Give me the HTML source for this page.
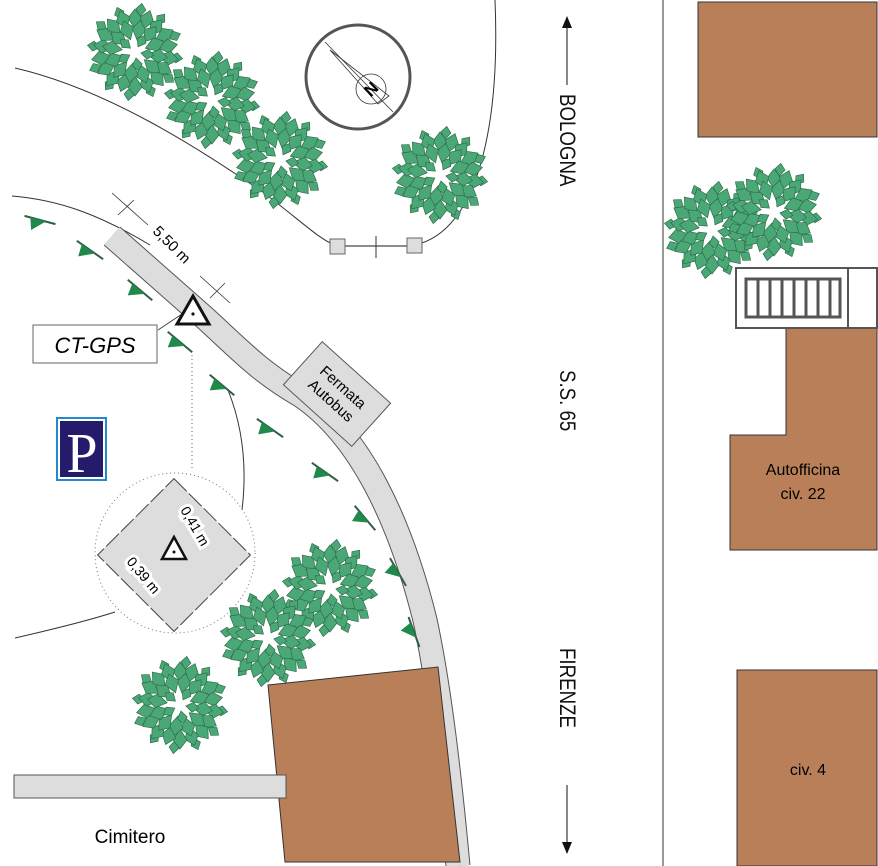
<!DOCTYPE html>
<html><head><meta charset="utf-8"><style>html,body{margin:0;padding:0;background:#fff}svg{display:block}</style></head>
<body>
<svg width="878" height="866" viewBox="0 0 878 866" xmlns="http://www.w3.org/2000/svg" font-family="Liberation Sans, sans-serif">
<defs>
<path id="lf" d="M0,-11 L7,-2 L0,9 L-7,-2Z" fill="#4aa877" stroke="#2f6e4c" stroke-width="0.7"/>
<path id="ls" d="M0,-7 L5,-1 L0,6 L-5,-1Z" fill="#4aa877" stroke="#2f6e4c" stroke-width="0.7"/>
<g id="tree">
<use href="#ls" transform="rotate(8) translate(0,-42)"/><use href="#ls" transform="rotate(38) translate(0,-41)"/>
<use href="#ls" transform="rotate(68) translate(0,-42)"/><use href="#ls" transform="rotate(98) translate(0,-41)"/>
<use href="#ls" transform="rotate(128) translate(0,-42)"/><use href="#ls" transform="rotate(158) translate(0,-41)"/>
<use href="#ls" transform="rotate(188) translate(0,-42)"/><use href="#ls" transform="rotate(218) translate(0,-41)"/>
<use href="#ls" transform="rotate(248) translate(0,-42)"/><use href="#ls" transform="rotate(278) translate(0,-41)"/>
<use href="#ls" transform="rotate(308) translate(0,-42)"/><use href="#ls" transform="rotate(338) translate(0,-41)"/>
<use href="#lf" transform="rotate(0) translate(0,-32)"/><use href="#lf" transform="rotate(20) translate(0,-33)"/>
<use href="#lf" transform="rotate(40) translate(0,-31)"/><use href="#lf" transform="rotate(60) translate(0,-33)"/>
<use href="#lf" transform="rotate(80) translate(0,-32)"/><use href="#lf" transform="rotate(100) translate(0,-33)"/>
<use href="#lf" transform="rotate(120) translate(0,-31)"/><use href="#lf" transform="rotate(140) translate(0,-33)"/>
<use href="#lf" transform="rotate(160) translate(0,-32)"/><use href="#lf" transform="rotate(180) translate(0,-33)"/>
<use href="#lf" transform="rotate(200) translate(0,-31)"/><use href="#lf" transform="rotate(220) translate(0,-33)"/>
<use href="#lf" transform="rotate(240) translate(0,-32)"/><use href="#lf" transform="rotate(260) translate(0,-33)"/>
<use href="#lf" transform="rotate(280) translate(0,-31)"/><use href="#lf" transform="rotate(300) translate(0,-33)"/>
<use href="#lf" transform="rotate(320) translate(0,-32)"/><use href="#lf" transform="rotate(340) translate(0,-33)"/>
<use href="#lf" transform="rotate(10) translate(0,-21)"/><use href="#lf" transform="rotate(40) translate(0,-22)"/>
<use href="#lf" transform="rotate(70) translate(0,-20)"/><use href="#lf" transform="rotate(100) translate(0,-22)"/>
<use href="#lf" transform="rotate(130) translate(0,-21)"/><use href="#lf" transform="rotate(160) translate(0,-22)"/>
<use href="#lf" transform="rotate(190) translate(0,-20)"/><use href="#lf" transform="rotate(220) translate(0,-22)"/>
<use href="#lf" transform="rotate(250) translate(0,-21)"/><use href="#lf" transform="rotate(280) translate(0,-22)"/>
<use href="#lf" transform="rotate(310) translate(0,-20)"/><use href="#lf" transform="rotate(340) translate(0,-22)"/>
<use href="#ls" transform="rotate(30) translate(0,-12)"/><use href="#ls" transform="rotate(100) translate(0,-12)"/>
<use href="#ls" transform="rotate(170) translate(0,-12)"/><use href="#ls" transform="rotate(240) translate(0,-12)"/>
<use href="#ls" transform="rotate(310) translate(0,-12)"/>
</g>
<g id="tk"><line x1="-16" y1="0" x2="16" y2="0" stroke="#2f5e45" stroke-width="2"/><path d="M-10,0 L6,0 L-6,12Z" fill="#1f8a4c"/></g>
</defs>

<!-- thin curves -->
<path d="M15,68 C110,90 200,150 260,190 C300,220 320,240 335,245" fill="none" stroke="#333" stroke-width="1"/>
<path d="M495,0 C500,120 480,230 415,245" fill="none" stroke="#333" stroke-width="1"/>
<line x1="343" y1="246" x2="407" y2="246" stroke="#666" stroke-width="1.5"/>
<line x1="376" y1="236" x2="376" y2="258" stroke="#333" stroke-width="1"/>
<rect x="330" y="239" width="15" height="15" fill="#ddd" stroke="#666"/>
<rect x="407" y="238" width="15" height="15" fill="#ddd" stroke="#666"/>
<path d="M12,196 C60,200 100,215 150,245" fill="none" stroke="#333" stroke-width="1"/>
<path d="M228,390 C240,420 248,460 242,510" fill="none" stroke="#333" stroke-width="1"/>
<path d="M15,638 C50,630 90,620 115,612" fill="none" stroke="#333" stroke-width="1"/>

<!-- compass -->
<circle cx="358" cy="77" r="52" fill="none" stroke="#555" stroke-width="3"/>
<line x1="325" y1="42" x2="393" y2="112" stroke="#333" stroke-width="0.8"/>
<path d="M330,50 L389,96 L378,104Z" fill="none" stroke="#333" stroke-width="0.8"/>
<circle cx="371" cy="89" r="15" fill="none" stroke="#333" stroke-width="0.8"/>
<text x="371" y="95" font-size="17" font-weight="bold" text-anchor="middle" transform="rotate(-45 371 89)">N</text>

<!-- road -->
<path d="M112,236 L205,318 C240,350 260,372 300,395 C360,435 400,520 425,620 C440,690 450,780 458,866" fill="none" stroke="#555" stroke-width="25"/>
<path d="M112,236 L205,318 C240,350 260,372 300,395 C360,435 400,520 425,620 C440,690 450,780 458,866" fill="none" stroke="#ddd" stroke-width="23"/>

<!-- fermata -->
<g transform="translate(337,394) rotate(42)">
<rect x="-46" y="-29" width="92" height="58" fill="#ddd" stroke="#555"/>
<text x="0" y="-4" font-size="15" text-anchor="middle">Fermata</text>
<text x="0" y="14" font-size="15" text-anchor="middle">Autobus</text>
</g>

<!-- dimension 5,50 -->
<line x1="112" y1="193" x2="148" y2="225" stroke="#333" stroke-width="0.8"/>
<line x1="200" y1="276" x2="230" y2="303" stroke="#333" stroke-width="0.8"/>
<line x1="118" y1="215" x2="134" y2="200" stroke="#333" stroke-width="0.8"/>
<line x1="210" y1="298" x2="225" y2="283" stroke="#333" stroke-width="0.8"/>
<text font-size="15" transform="translate(152,232) rotate(45)">5,50 m</text>

<!-- CT-GPS -->
<line x1="158" y1="330" x2="182" y2="314" stroke="#333" stroke-width="0.8"/>
<rect x="33" y="325" width="124" height="38" fill="#fff" stroke="#666"/>
<text x="95" y="353" font-size="22" font-style="italic" text-anchor="middle">CT-GPS</text>
<path d="M193,296 L177,324 L209,324Z" fill="#fff" stroke="#111" stroke-width="3"/>
<circle cx="193" cy="314" r="1.6" fill="#111"/>
<line x1="192" y1="355" x2="192" y2="470" stroke="#666" stroke-width="1" stroke-dasharray="1,3"/>

<!-- ticks -->
<use href="#tk" transform="translate(40,220) rotate(15)"/>
<use href="#tk" transform="translate(90,250) rotate(35)"/>
<use href="#tk" transform="translate(140,290) rotate(40)"/>
<use href="#tk" transform="translate(180,342) rotate(40)"/>
<use href="#tk" transform="translate(222,385) rotate(40)"/>
<use href="#tk" transform="translate(270,428) rotate(35)"/>
<use href="#tk" transform="translate(325,472) rotate(35)"/>
<use href="#tk" transform="translate(365,518) rotate(50)"/>
<use href="#tk" transform="translate(398,572) rotate(60)"/>
<use href="#tk" transform="translate(414,632) rotate(70)"/>

<!-- parking -->
<rect x="56" y="417" width="51" height="64" fill="#1f8ad0"/>
<rect x="58" y="419" width="47" height="60" fill="#fff"/>
<rect x="60" y="421" width="43" height="56" fill="#241c6a"/>
<text x="82" y="472" font-size="56" font-family="Liberation Serif, serif" fill="#fff" text-anchor="middle">P</text>

<!-- detail circle -->
<circle cx="175" cy="553" r="80" fill="none" stroke="#777" stroke-width="1" stroke-dasharray="1,3"/>
<g transform="translate(174,555) rotate(45)">
<rect x="-54" y="-54" width="108" height="108" fill="#ddd" stroke="#444" stroke-dasharray="18,3"/>
</g>
<text font-size="14" transform="translate(180,510) rotate(60)" fill="#000"><tspan style="paint-order:stroke" stroke="#fff" stroke-width="6">0,41 m</tspan></text>
<text font-size="14" transform="translate(126,562) rotate(50)" fill="#000"><tspan style="paint-order:stroke" stroke="#fff" stroke-width="6">0,39 m</tspan></text>
<path d="M174,537 L162,559 L186,559Z" fill="#fff" stroke="#111" stroke-width="2.5"/>
<circle cx="174" cy="552" r="1.5" fill="#111"/>

<!-- trees -->
<use href="#tree" transform="translate(135,52)"/>
<use href="#tree" transform="translate(212,100)"/>
<use href="#tree" transform="translate(280,160)"/>
<use href="#tree" transform="translate(440,175)"/>
<use href="#tree" transform="translate(712,230)"/>
<use href="#tree" transform="translate(774,212)"/>
<use href="#tree" transform="translate(330,588)"/>
<use href="#tree" transform="translate(268,638)"/>
<use href="#tree" transform="translate(180,705)"/>

<!-- buildings -->
<polygon points="268,685 438,667 460,862 285,862" fill="#b97f58" stroke="#333"/>
<rect x="14" y="775" width="272" height="23" fill="#ddd" stroke="#555"/>
<rect x="698" y="2" width="179" height="135" fill="#b97f58" stroke="#333"/>
<polygon points="786,328 877,328 877,550 730,550 730,435 786,435" fill="#b97f58" stroke="#333"/>
<text x="803" y="475" font-size="16" text-anchor="middle">Autofficina</text>
<text x="803" y="499" font-size="16" text-anchor="middle">civ. 22</text>
<rect x="737" y="670" width="140" height="196" fill="#b97f58" stroke="#333"/>
<text x="808" y="775" font-size="16" text-anchor="middle">civ. 4</text>
<rect x="736" y="268" width="112" height="60" fill="#fff" stroke="#555" stroke-width="2"/>
<rect x="848" y="268" width="29" height="60" fill="#fff" stroke="#555" stroke-width="2"/>
<rect x="746" y="279" width="94" height="38" fill="#fff" stroke="#555" stroke-width="3"/>
<g stroke="#555" stroke-width="3"><line x1="758" y1="279" x2="758" y2="317"/><line x1="770" y1="279" x2="770" y2="317"/><line x1="782" y1="279" x2="782" y2="317"/><line x1="794" y1="279" x2="794" y2="317"/><line x1="806" y1="279" x2="806" y2="317"/><line x1="818" y1="279" x2="818" y2="317"/><line x1="830" y1="279" x2="830" y2="317"/></g>

<line x1="663" y1="0" x2="663" y2="866" stroke="#777" stroke-width="1.5"/>

<!-- road labels -->
<line x1="567" y1="25" x2="567" y2="85" stroke="#111" stroke-width="1"/>
<path d="M567,16 L562,28 L572,28Z" fill="#111"/>
<line x1="567" y1="785" x2="567" y2="845" stroke="#111" stroke-width="1"/>
<path d="M567,854 L562,842 L572,842Z" fill="#111"/>
<g font-size="22" fill="#111">
<text transform="translate(560,94) rotate(90) scale(0.85,1)">BOLOGNA</text>
<text transform="translate(560,370) rotate(90) scale(0.85,1)">S.S. 65</text>
<text transform="translate(560,648) rotate(90) scale(0.85,1)">FIRENZE</text>
</g>
<text x="130" y="843" font-size="19" text-anchor="middle">Cimitero</text>
</svg>
</body></html>
